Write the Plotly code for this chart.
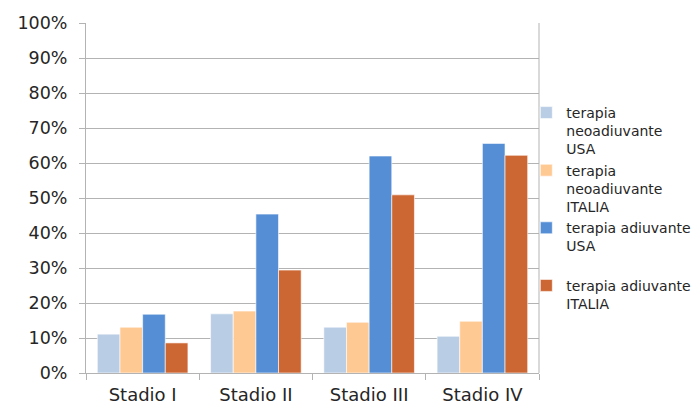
import plotly.graph_objects as go

categories = ["Stadio I", "Stadio II", "Stadio III", "Stadio IV"]
series_names = [
    "terapia<br>neoadiuvante<br>USA",
    "terapia<br>neoadiuvante<br>ITALIA",
    "terapia adiuvante<br>USA<br> ",
    "terapia adiuvante<br>ITALIA",
]
neo_usa = [0.111, 0.169, 0.131, 0.105]
neo_italia = [0.131, 0.177, 0.145, 0.148]
adi_usa = [0.168, 0.454, 0.620, 0.656]
adi_italia = [0.086, 0.294, 0.509, 0.622]
colors = ["#B9CDE5", "#FFC994", "#558ED5", "#CC6633"]
y_ticks = [i / 10 for i in range(11)]

fig = go.Figure()
for name, vals, c in zip(series_names, [neo_usa, neo_italia, adi_usa, adi_italia], colors):
    fig.add_trace(go.Bar(x=categories, y=vals, name=name,
                         marker=dict(color=c, line=dict(color="rgba(255,255,255,0.6)", width=1))))

font_family = "DejaVu Sans"
fig.update_layout(
    width=694, height=405,
    margin=dict(l=86, r=155, t=23, b=32, autoexpand=False),
    paper_bgcolor="white", plot_bgcolor="white",
    barmode="group", bargap=0.2, bargroupgap=0,
    font=dict(family=font_family, color="#262626"),
    showlegend=True,
    legend=dict(x=0.972, xanchor="left", y=0.47, yanchor="middle", valign="top",
                font=dict(size=14, family=font_family, color="#262626"),
                itemwidth=30, tracegroupgap=0, bgcolor="rgba(0,0,0,0)"),
    xaxis=dict(showline=True, linecolor="#B3B3B3", linewidth=1, ticks="outside",
               tickson="boundaries", ticklen=6, tickcolor="#B3B3B3",
               tickfont=dict(size=18), ticklabelstandoff=5, showgrid=False, mirror=False),
    yaxis=dict(range=[0, 1], tickvals=y_ticks, tickformat=".0%", showline=True,
               linecolor="#B3B3B3", linewidth=1, ticks="outside", ticklen=6,
               tickcolor="#B3B3B3", tickfont=dict(size=17.5), ticklabelstandoff=8,
               showgrid=True, gridcolor="#B3B3B3", gridwidth=1, zeroline=False),
)
fig.add_shape(type="line", xref="paper", yref="paper", x0=1, x1=1, y0=0, y1=1,
              line=dict(color="#B3B3B3", width=1))
fig.write_html("out.html")
